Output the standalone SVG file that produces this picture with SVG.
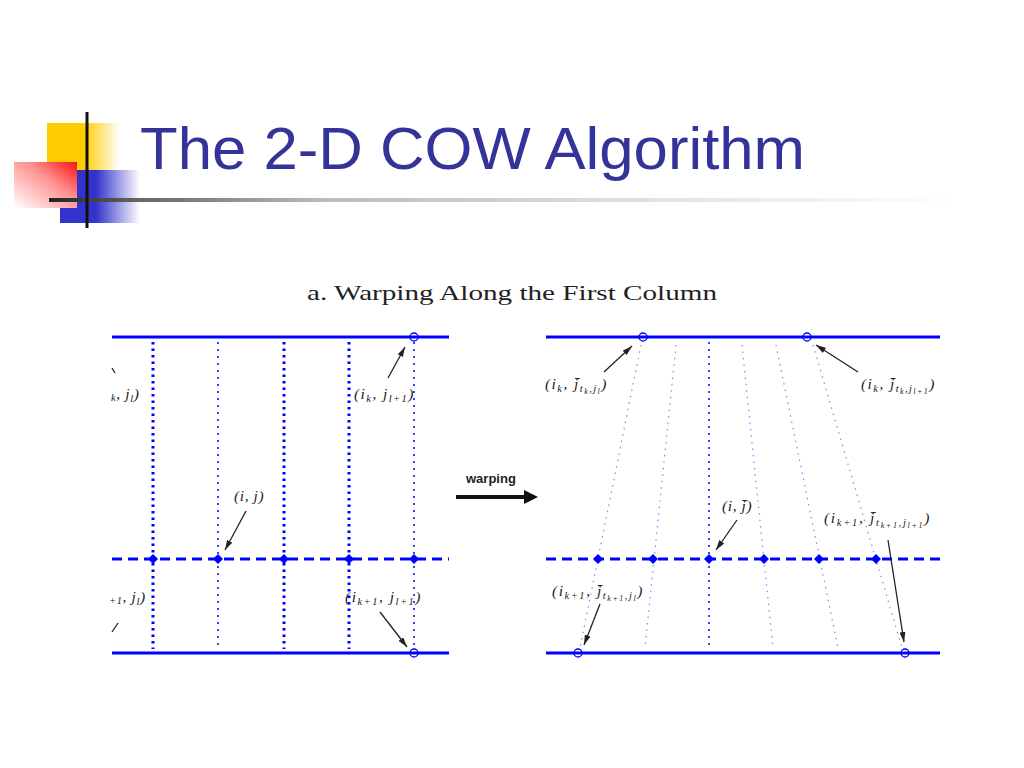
<svg xmlns="http://www.w3.org/2000/svg" width="1024" height="768" viewBox="0 0 1024 768">
<defs>
<style>
.solid{stroke:#0000ff;stroke-width:3;fill:none}
.dash{stroke:#0000ff;stroke-width:3;stroke-dasharray:10 6;fill:none}
.dotK{stroke:#0000ff;stroke-width:3;stroke-dasharray:2.5 4;fill:none}
.dotT{stroke:#0000ff;stroke-width:1.5;stroke-dasharray:2 5;fill:none}
.dotL{stroke:#8888ee;stroke-width:1.2;stroke-dasharray:1.5 5;fill:none}
.circ{fill:none;stroke:#0000ff;stroke-width:1.3}
.pt{fill:#0000ff}
.ann{stroke:#222;stroke-width:1.3;fill:none;marker-end:url(#ah)}
.m{font-family:"Liberation Serif",serif;font-style:italic;font-size:15.5px;fill:#222;letter-spacing:0.6px}
.s{font-size:10.5px}
.ss{font-size:8px}
</style>
<marker id="ah" viewBox="0 0 10 6" refX="10" refY="3" markerWidth="10" markerHeight="6" markerUnits="userSpaceOnUse" orient="auto">
<path d="M0,0 L10,3 L0,6 Z" fill="#222"/>
</marker>
<linearGradient id="gY" x1="0" y1="0" x2="1" y2="0">
<stop offset="0" stop-color="#ffcc00"/><stop offset="0.5" stop-color="#ffcc00"/><stop offset="1" stop-color="#ffcc00" stop-opacity="0"/>
</linearGradient>
<linearGradient id="gB" x1="0" y1="0" x2="1" y2="0">
<stop offset="0" stop-color="#3333cc"/><stop offset="0.45" stop-color="#3333cc"/><stop offset="1" stop-color="#3333cc" stop-opacity="0"/>
</linearGradient>
<linearGradient id="gR" x1="1" y1="0" x2="0" y2="1">
<stop offset="0" stop-color="#ff1010"/><stop offset="0.4" stop-color="#ff9090"/><stop offset="1" stop-color="#ffffff"/>
</linearGradient>
<linearGradient id="gL" x1="0" y1="0" x2="1" y2="0">
<stop offset="0" stop-color="#222"/><stop offset="0.1" stop-color="#666"/><stop offset="0.3" stop-color="#bbb"/><stop offset="0.65" stop-color="#e0e0e0"/><stop offset="1" stop-color="#fff"/>
</linearGradient>
</defs>
<rect width="1024" height="768" fill="#fff"/>

<g id="logo">
<rect x="47" y="123" width="73" height="47" fill="url(#gY)"/>
<rect x="60" y="170" width="80" height="53" fill="url(#gB)"/>
<rect x="14" y="162" width="63" height="46" fill="url(#gR)"/>
<rect x="49" y="198" width="911" height="4" fill="url(#gL)"/>
<line x1="87" y1="112" x2="87" y2="228" stroke="#111" stroke-width="3"/>
</g>

<text id="title" x="140" y="169" font-family="Liberation Sans,Arial,sans-serif" font-size="59" fill="#333399" textLength="665" lengthAdjust="spacingAndGlyphs">The 2-D COW Algorithm</text>
<text id="subtitle" x="307" y="300" font-family="Liberation Serif,serif" font-size="22" fill="#222" textLength="410" lengthAdjust="spacingAndGlyphs">a. Warping Along the First Column</text>

<g id="left-panel">
<line class="solid" x1="112" y1="337" x2="449" y2="337"/>
<line class="solid" x1="112" y1="653" x2="449" y2="653"/>
<line class="dotK" x1="153" y1="342" x2="153" y2="649"/>
<line class="dotT" x1="218" y1="342" x2="218" y2="649"/>
<line class="dotK" x1="284" y1="342" x2="284" y2="649"/>
<line class="dotK" x1="349" y1="342" x2="349" y2="649"/>
<line class="dotT" x1="414" y1="342" x2="414" y2="649"/>
<line class="dash" x1="112" y1="559" x2="449" y2="559"/>
<g class="pt">
<path d="M148,559 L153,554 L158,559 L153,564 Z"/>
<path d="M213,559 L218,554 L223,559 L218,564 Z"/>
<path d="M279,559 L284,554 L289,559 L284,564 Z"/>
<path d="M344,559 L349,554 L354,559 L349,564 Z"/>
<path d="M409,559 L414,554 L419,559 L414,564 Z"/>
</g>
<circle class="circ" cx="414" cy="337" r="4"/>
<circle class="circ" cx="414" cy="653" r="4"/>
</g>

<g id="right-panel">
<line class="solid" x1="546" y1="337" x2="940" y2="337"/>
<line class="solid" x1="546" y1="653" x2="940" y2="653"/>
<line class="dotL" x1="641" y1="345" x2="580" y2="648"/>
<line class="dotL" x1="676" y1="345" x2="645" y2="648"/>
<line class="dotT" x1="709" y1="342" x2="709" y2="649"/>
<line class="dotL" x1="742" y1="345" x2="773" y2="648"/>
<line class="dotL" x1="776" y1="345" x2="838" y2="648"/>
<line class="dotL" x1="813" y1="345" x2="902" y2="648"/>
<line class="dash" x1="546" y1="559" x2="940" y2="559"/>
<g class="pt">
<path d="M593,559 L598,554 L603,559 L598,564 Z"/>
<path d="M648,559 L653,554 L658,559 L653,564 Z"/>
<path d="M704,559 L709,554 L714,559 L709,564 Z"/>
<path d="M759,559 L764,554 L769,559 L764,564 Z"/>
<path d="M814,559 L819,554 L824,559 L819,564 Z"/>
<path d="M871,559 L876,554 L881,559 L876,564 Z"/>
</g>
<circle class="circ" cx="643" cy="337" r="4"/>
<circle class="circ" cx="807" cy="337" r="4"/>
<circle class="circ" cx="578" cy="653" r="4"/>
<circle class="circ" cx="905" cy="653" r="4"/>
</g>

<g id="warping-arrow">
<text x="466" y="483" font-family="Liberation Sans,Arial,sans-serif" font-weight="bold" font-size="13" fill="#222">warping</text>
<line x1="456" y1="497" x2="526" y2="497" stroke="#111" stroke-width="4"/>
<path d="M524,490 L538,497 L524,504 Z" fill="#111"/>
</g>

<g id="connectors">
<path class="ann" d="M388,378 L405,347"/>
<path class="ann" d="M246,511 L225,550"/>
<path class="ann" d="M380,612 L407,647"/>
<path d="M112,368 L115,373" stroke="#222" stroke-width="1.3"/>
<path d="M112,632 L118,623" stroke="#222" stroke-width="1.3"/>
<path class="ann" d="M604,372 L632,346"/>
<path class="ann" d="M858,372 L816,345"/>
<path class="ann" d="M737,520 L716,550"/>
<path class="ann" d="M888,540 L904,642"/>
<path class="ann" d="M600,604 L584,645"/>
</g>

<g id="labels">
<text class="m" x="111" y="399"><tspan class="s" dy="2">k</tspan><tspan dy="-2">, j</tspan><tspan class="s" dy="3">l</tspan><tspan dy="-3">)</tspan></text>
<text class="m" x="354" y="399" textLength="60" lengthAdjust="spacing">(i<tspan class="s" dy="3">k</tspan><tspan dy="-3">, j</tspan><tspan class="s" dy="3">l+1</tspan><tspan dy="-3">)</tspan></text>
<text class="m" x="234" y="501">(i, j)</text>
<text class="m" x="109" y="602"><tspan class="s" dy="2">+1</tspan><tspan dy="-2">, j</tspan><tspan class="s" dy="3">l</tspan><tspan dy="-3">)</tspan></text>
<text class="m" x="345" y="602" textLength="76" lengthAdjust="spacing">(i<tspan class="s" dy="3">k+1</tspan><tspan dy="-3">, j</tspan><tspan class="s" dy="3">l+1</tspan><tspan dy="-3">)</tspan></text>

<text class="m" x="545" y="389" textLength="62" lengthAdjust="spacing">(i<tspan class="s" dy="3">k</tspan><tspan dy="-3">, j̄</tspan><tspan class="s" dy="3">t</tspan><tspan class="ss" dy="2">k</tspan><tspan class="s" dy="-2">,j</tspan><tspan class="ss" dy="2">l</tspan><tspan dy="-5">)</tspan></text>
<text class="m" x="861" y="389" textLength="74" lengthAdjust="spacing">(i<tspan class="s" dy="3">k</tspan><tspan dy="-3">, j̄</tspan><tspan class="s" dy="3">t</tspan><tspan class="ss" dy="2">k</tspan><tspan class="s" dy="-2">,j</tspan><tspan class="ss" dy="2">l+1</tspan><tspan dy="-5">)</tspan></text>
<text class="m" x="722" y="511">(i, j̄)</text>
<text class="m" x="824" y="523" textLength="106" lengthAdjust="spacing">(i<tspan class="s" dy="3">k+1</tspan><tspan dy="-3">, j̄</tspan><tspan class="s" dy="3">t</tspan><tspan class="ss" dy="2">k+1</tspan><tspan class="s" dy="-2">,j</tspan><tspan class="ss" dy="2">l+1</tspan><tspan dy="-5">)</tspan></text>
<text class="m" x="552" y="596" textLength="91" lengthAdjust="spacing">(i<tspan class="s" dy="3">k+1</tspan><tspan dy="-3">, j̄</tspan><tspan class="s" dy="3">t</tspan><tspan class="ss" dy="2">k+1</tspan><tspan class="s" dy="-2">,j</tspan><tspan class="ss" dy="2">l</tspan><tspan dy="-5">)</tspan></text>
</g>
</svg>
